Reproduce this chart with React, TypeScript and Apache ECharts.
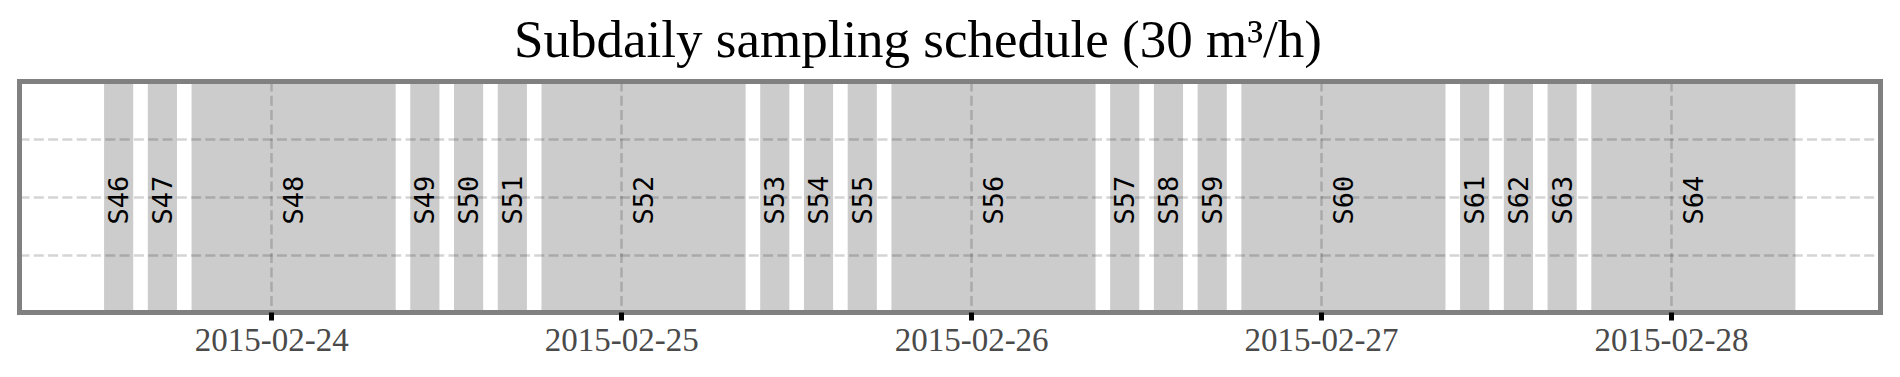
import React, { useEffect, useRef } from "react";
import * as echarts from "echarts";

// Sample names and their collection windows (UTC)
const samples = [
  "S46", "S47", "S48", "S49", "S50", "S51", "S52", "S53", "S54", "S55",
  "S56", "S57", "S58", "S59", "S60", "S61", "S62", "S63", "S64",
];
const startTimes = [
  "2015-02-23 12:30", "2015-02-23 15:30", "2015-02-23 18:30",
  "2015-02-24 09:30", "2015-02-24 12:30", "2015-02-24 15:30", "2015-02-24 18:30",
  "2015-02-25 09:30", "2015-02-25 12:30", "2015-02-25 15:30", "2015-02-25 18:30",
  "2015-02-26 09:30", "2015-02-26 12:30", "2015-02-26 15:30", "2015-02-26 18:30",
  "2015-02-27 09:30", "2015-02-27 12:30", "2015-02-27 15:30", "2015-02-27 18:30",
];
const endTimes = [
  "2015-02-23 14:30", "2015-02-23 17:30", "2015-02-24 08:30",
  "2015-02-24 11:30", "2015-02-24 14:30", "2015-02-24 17:30", "2015-02-25 08:30",
  "2015-02-25 11:30", "2015-02-25 14:30", "2015-02-25 17:30", "2015-02-26 08:30",
  "2015-02-26 11:30", "2015-02-26 14:30", "2015-02-26 17:30", "2015-02-27 08:30",
  "2015-02-27 11:30", "2015-02-27 14:30", "2015-02-27 17:30", "2015-02-28 08:30",
];
const tickLabels = ["2015-02-24", "2015-02-25", "2015-02-26", "2015-02-27", "2015-02-28"];
const titleText = "Subdaily sampling schedule (30 m³/h)";

function toMs(s: string): number {
  const [d, t] = s.split(" ");
  const [y, mo, da] = d.split("-").map(Number);
  const [h, mi] = (t || "00:00").split(":").map(Number);
  return Date.UTC(y, mo - 1, da, h, mi);
}

export default function App() {
  const ref = useRef<HTMLDivElement>(null);
  useEffect(() => {
    if (!ref.current) return;
    const chart = echarts.init(ref.current, undefined, { renderer: "svg" });
    const starts = startTimes.map(toMs);
    const ends = endTimes.map(toMs);
    const dataMin = Math.min(...starts);
    const dataMax = Math.max(...ends);
    const pad = (dataMax - dataMin) * 0.05;
    const xMin = dataMin - pad;
    const xMax = dataMax + pad;
    const tickVals = tickLabels.map(toMs);
    const frame = { color: "#808080", width: 5, cap: "square" as const };
    const gridLine = { color: "rgba(0,0,0,0.17)", width: 2.5, type: [10, 4.3] as any };

    const option: any = {
      animation: false,
      grid: { left: 19.5, right: 20, top: 81.5, bottom: 64.5 },
      graphic: [
        {
          type: "text",
          x: 918,
          y: 12,
          z: 100,
          style: {
            text: titleText,
            font: '53px "Liberation Serif"',
            fill: "#000",
            align: "center",
            verticalAlign: "top",
          },
        },
      ],
      xAxis: [
        {
          type: "value",
          min: xMin,
          max: xMax,
          position: "bottom",
          z: 5,
          axisLine: { show: true, onZero: false, lineStyle: frame },
          axisTick: {
            show: true,
            customValues: tickVals,
            length: 8,
            lineStyle: { color: "#000", width: 5 },
          },
          axisLabel: {
            show: true,
            customValues: tickVals,
            margin: 11,
            color: "#4a4a4a",
            fontFamily: "Liberation Serif",
            fontSize: 33,
            formatter: (v: number) => {
              const i = tickVals.indexOf(v);
              return i >= 0 ? tickLabels[i] : "";
            },
          },
          splitLine: { show: true, lineStyle: gridLine },
        },
        {
          type: "value",
          min: xMin,
          max: xMax,
          position: "top",
          z: 5,
          axisLine: { show: true, onZero: false, lineStyle: frame },
          axisTick: { show: false },
          axisLabel: { show: false },
          splitLine: { show: false },
        },
      ],
      yAxis: [
        {
          type: "value",
          min: 0,
          max: 1,
          interval: 0.25,
          z: 5,
          axisLine: { show: true, onZero: false, lineStyle: frame },
          axisTick: { show: false },
          axisLabel: { show: false },
          splitLine: { show: true, lineStyle: gridLine },
        },
        {
          type: "value",
          min: 0,
          max: 1,
          position: "right",
          z: 5,
          axisLine: { show: true, onZero: false, lineStyle: frame },
          axisTick: { show: false },
          axisLabel: { show: false },
          splitLine: { show: false },
        },
      ],
      series: [
        {
          type: "custom",
          xAxisIndex: 0,
          yAxisIndex: 0,
          z: 2,
          encode: { x: [0, 1] },
          data: starts.map((s, i) => [s, ends[i]]),
          renderItem: (params: any, api: any) => {
            const a = api.coord([api.value(0), 1]);
            const b = api.coord([api.value(1), 0]);
            return {
              type: "group",
              children: [
                {
                  type: "rect",
                  shape: { x: a[0], y: a[1], width: b[0] - a[0], height: b[1] - a[1] },
                  style: { fill: "#cccccc" },
                },
                {
                  type: "text",
                  x: (a[0] + b[0]) / 2,
                  y: (a[1] + b[1]) / 2 + 3,
                  rotation: Math.PI / 2,
                  style: {
                    text: samples[params.dataIndex],
                    font: '27px "DejaVu Sans Mono"',
                    fill: "#000",
                    align: "center",
                    verticalAlign: "middle",
                  },
                },
              ],
            };
          },
        },
      ],
    };
    chart.setOption(option);
    return () => chart.dispose();
  }, []);
  return (
    <div
      ref={ref}
      style={{ position: "absolute", left: 0, top: 0, width: 1900, height: 377, background: "#fff" }}
    />
  );
}
